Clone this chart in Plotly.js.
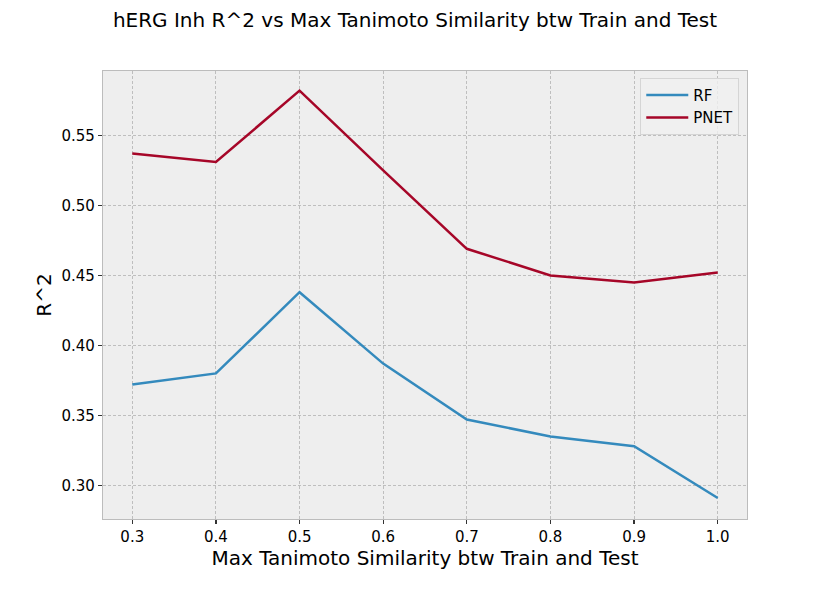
<!DOCTYPE html>
<html>
<head>
<meta charset="utf-8">
<script src="https://cdn.plot.ly/plotly-3.0.1.min.js"></script>
<style>
  html, body { margin: 0; padding: 0; background: #fff; }
  #chart { width: 830px; height: 593px; }
</style>
</head>
<body>
<div id="chart"></div>
<script>
// max Tanimoto similarity thresholds
const similarity = [0.3, 0.4, 0.5, 0.6, 0.7, 0.8, 0.9, 1.0];

// R^2 per model
const rfR2 = [0.372, 0.380, 0.438, 0.387, 0.347, 0.335, 0.328, 0.291];
const pnetR2 = [0.537, 0.531, 0.582, 0.525, 0.469, 0.450, 0.445, 0.452];

const xTicks = [0.3, 0.4, 0.5, 0.6, 0.7, 0.8, 0.9, 1.0];
const xTickText = ['0.3', '0.4', '0.5', '0.6', '0.7', '0.8', '0.9', '1.0'];
const yTicks = [0.30, 0.35, 0.40, 0.45, 0.50, 0.55];
const yTickText = ['0.30', '0.35', '0.40', '0.45', '0.50', '0.55'];

const font = 'DejaVu Sans, sans-serif';

const rf = {
    x: similarity,
    y: rfR2,
    name: 'RF',
    type: 'scatter',
    mode: 'lines',
    line: { color: '#348ABD', width: 2.5 }
};

const pnet = {
    x: similarity,
    y: pnetR2,
    name: 'PNET',
    type: 'scatter',
    mode: 'lines',
    line: { color: '#A60628', width: 2.5 }
};

const axisStyle = {
    showline: true,
    linecolor: '#bcbcbc',
    linewidth: 1.2,
    mirror: true,
    showgrid: true,
    gridcolor: '#b2b2b2',
    griddash: '3px,2px',
    gridwidth: 0.8,
    zeroline: false,
    ticks: 'outside',
    ticklen: 4,
    tickwidth: 1.2,
    tickcolor: '#333',
    tickfont: { family: font, size: 15, color: '#000' }
};

const layout = {
    width: 830,
    height: 593,
    margin: { l: 103, r: 83, t: 71, b: 74 },
    paper_bgcolor: '#ffffff',
    plot_bgcolor: '#eeeeee',
    font: { family: font, color: '#000' },
    title: {
        text: 'hERG Inh R^2 vs Max Tanimoto Similarity btw Train and Test',
        font: { family: font, size: 20, color: '#000' },
        x: 0.5,
        xanchor: 'center',
        y: 0.966,
        yanchor: 'middle'
    },
    xaxis: Object.assign({}, axisStyle, {
        range: [0.265, 1.035],
        tickvals: xTicks,
        ticktext: xTickText,
        title: { text: 'Max Tanimoto Similarity btw Train and Test', font: { family: font, size: 20 }, standoff: 0 }
    }),
    yaxis: Object.assign({}, axisStyle, {
        range: [0.276, 0.596],
        tickvals: yTicks,
        ticktext: yTickText,
        title: { text: 'R^2', font: { family: font, size: 20 }, standoff: 4 }
    }),
    legend: {
        x: 0.988,
        y: 0.985,
        xanchor: 'right',
        yanchor: 'top',
        itemwidth: 42,
        bgcolor: 'rgba(240,240,240,0.8)',
        bordercolor: '#d5d5d5',
        borderwidth: 1,
        font: { family: font, size: 15, color: '#000' }
    },
    showlegend: true
};

Plotly.newPlot('chart', [rf, pnet], layout, { staticPlot: true, displayModeBar: false });
</script>
</body>
</html>
